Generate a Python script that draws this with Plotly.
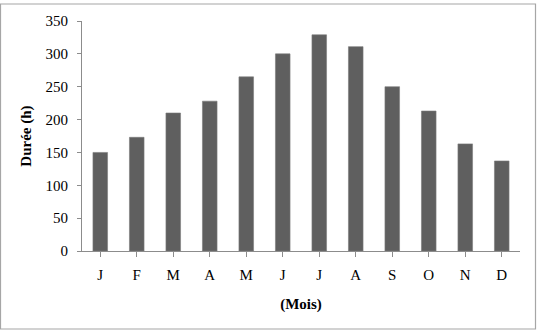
import plotly.graph_objects as go

months = ["J", "F", "M", "A", "M", "J", "J", "A", "S", "O", "N", "D"]
durations = [150, 173, 210, 228, 265, 300, 329, 311, 250, 213, 163, 137]

x_idx = list(range(len(months)))

fig = go.Figure()
fig.add_trace(go.Bar(
    x=x_idx, y=durations,
    marker=dict(color="#5f5f5f", line=dict(color="#7a7a7a", width=0.6)),
    width=0.4,
))

font = dict(family="Liberation Serif, Times New Roman, serif", size=15, color="#000")

fig.update_layout(
    width=537, height=332,
    margin=dict(l=82, r=17, t=21, b=81),
    paper_bgcolor="white", plot_bgcolor="white",
    showlegend=False,
    font=font,
    xaxis=dict(
        tickmode="array", tickvals=x_idx, ticktext=months,
        range=[-0.5, 11.5],
        showgrid=False, zeroline=False,
        showline=True, linecolor="#8c8c8c", linewidth=1,
        ticks="outside", ticklen=5, tickcolor="#8c8c8c",
        tickfont=font, ticklabelstandoff=5,
        title=dict(text="<b>(Mois)</b>", font=font, standoff=16),
    ),
    yaxis=dict(
        range=[0, 350], tickmode="linear", tick0=0, dtick=50,
        showgrid=False, zeroline=False,
        showline=True, linecolor="#8c8c8c", linewidth=1,
        ticks="outside", ticklen=4, tickcolor="#8c8c8c",
        tickfont=font, ticklabelstandoff=6,
        title=dict(text="<b>Durée (h)</b>", font=font, standoff=10),
    ),
)

fig.update_xaxes(tickson="boundaries")

fig.add_shape(
    type="rect", xref="paper", yref="paper",
    x0=(0.5 - 82) / 438, x1=(535.5 - 82) / 438,
    y0=(251 - 329) / 230, y1=(251 - 4) / 230,
    line=dict(color="#a6a6a6", width=1.2),
    fillcolor="rgba(0,0,0,0)", layer="below",
)

fig.write_html("out.html")
